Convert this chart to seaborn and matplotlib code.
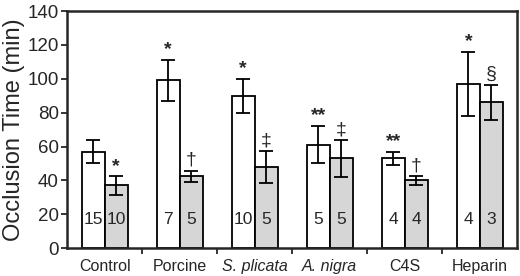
import numpy as np
import pandas as pd
import matplotlib.pyplot as plt
import seaborn as sns

# values
groups = ['Control', 'Porcine', 'S. plicata', 'A. nigra', 'C4S', 'Heparin']
white_mean = [57, 99, 90, 61, 53, 97]
white_err = [6.6, 12, 10, 11, 3.8, 19]
gray_mean = [37, 42.5, 48, 53, 40, 86]
gray_err = [5.4, 3.3, 9.5, 11, 2.6, 10.5]
white_n = ['15', '7', '10', '5', '4', '4']
gray_n = ['10', '5', '5', '5', '4', '3']
white_sig = ['', '*', '*', '**', '**', '*']
gray_sig = ['*', '\u2020', '\u2021', '\u2021', '\u2020', '\u00a7']

df = pd.DataFrame({
    'group': groups * 2,
    'cond': ['a'] * 6 + ['b'] * 6,
    'time': white_mean + gray_mean,
})

sns.set_style('ticks')
plt.rcParams['font.family'] = ['Liberation Sans', 'DejaVu Sans']

fig, ax = plt.subplots(figsize=(5.2, 2.76), dpi=100)
fig.subplots_adjust(left=0.129, right=0.995, top=0.96, bottom=0.101)

sns.barplot(data=df, x='group', y='time', hue='cond',
            palette=['white', '#d6d6d6'], width=0.614,
            edgecolor='black', linewidth=1.3, errorbar=None,
            legend=False, ax=ax)

# error bars, n labels and significance marks
for cont, means, errs, ns, sigs in zip(ax.containers,
                                       [white_mean, gray_mean],
                                       [white_err, gray_err],
                                       [white_n, gray_n],
                                       [white_sig, gray_sig]):
    xs = [p.get_x() + p.get_width() / 2 for p in cont.patches]
    ax.errorbar(xs, means, yerr=errs, fmt='none', ecolor='black',
                elinewidth=1.3, capsize=5, capthick=1.3)
    for x, m, e, n, s in zip(xs, means, errs, ns, sigs):
        ax.text(x, 17, n, ha='center', va='center', fontsize=12.5)
        if s:
            bold = 'bold' if '*' in s else 'normal'
            ax.text(x, m + e + 1, s, ha='center', va='bottom',
                    fontsize=14, fontweight=bold)

ax.set_ylim(0, 140)
ax.set_xlim(-0.5, 5.5)
ax.set_yticks(range(0, 141, 20))
ax.set_xticks(np.arange(0.5, 5, 1), minor=True)
ax.tick_params(axis='x', which='major', length=0, labelsize=11.5, pad=8)
ax.tick_params(axis='x', which='minor', length=4, width=1.3)
ax.tick_params(axis='y', labelsize=13.5, length=4, width=1.3, pad=2)
for lab in ax.get_xticklabels():
    if lab.get_text() in ('S. plicata', 'A. nigra'):
        lab.set_fontstyle('italic')

ax.set_xlabel('')
ax.set_ylabel('Occlusion Time (min)', fontsize=17, labelpad=2)
for sp in ax.spines.values():
    sp.set_visible(True)
    sp.set_linewidth(1.8)

plt.savefig('out.png')
